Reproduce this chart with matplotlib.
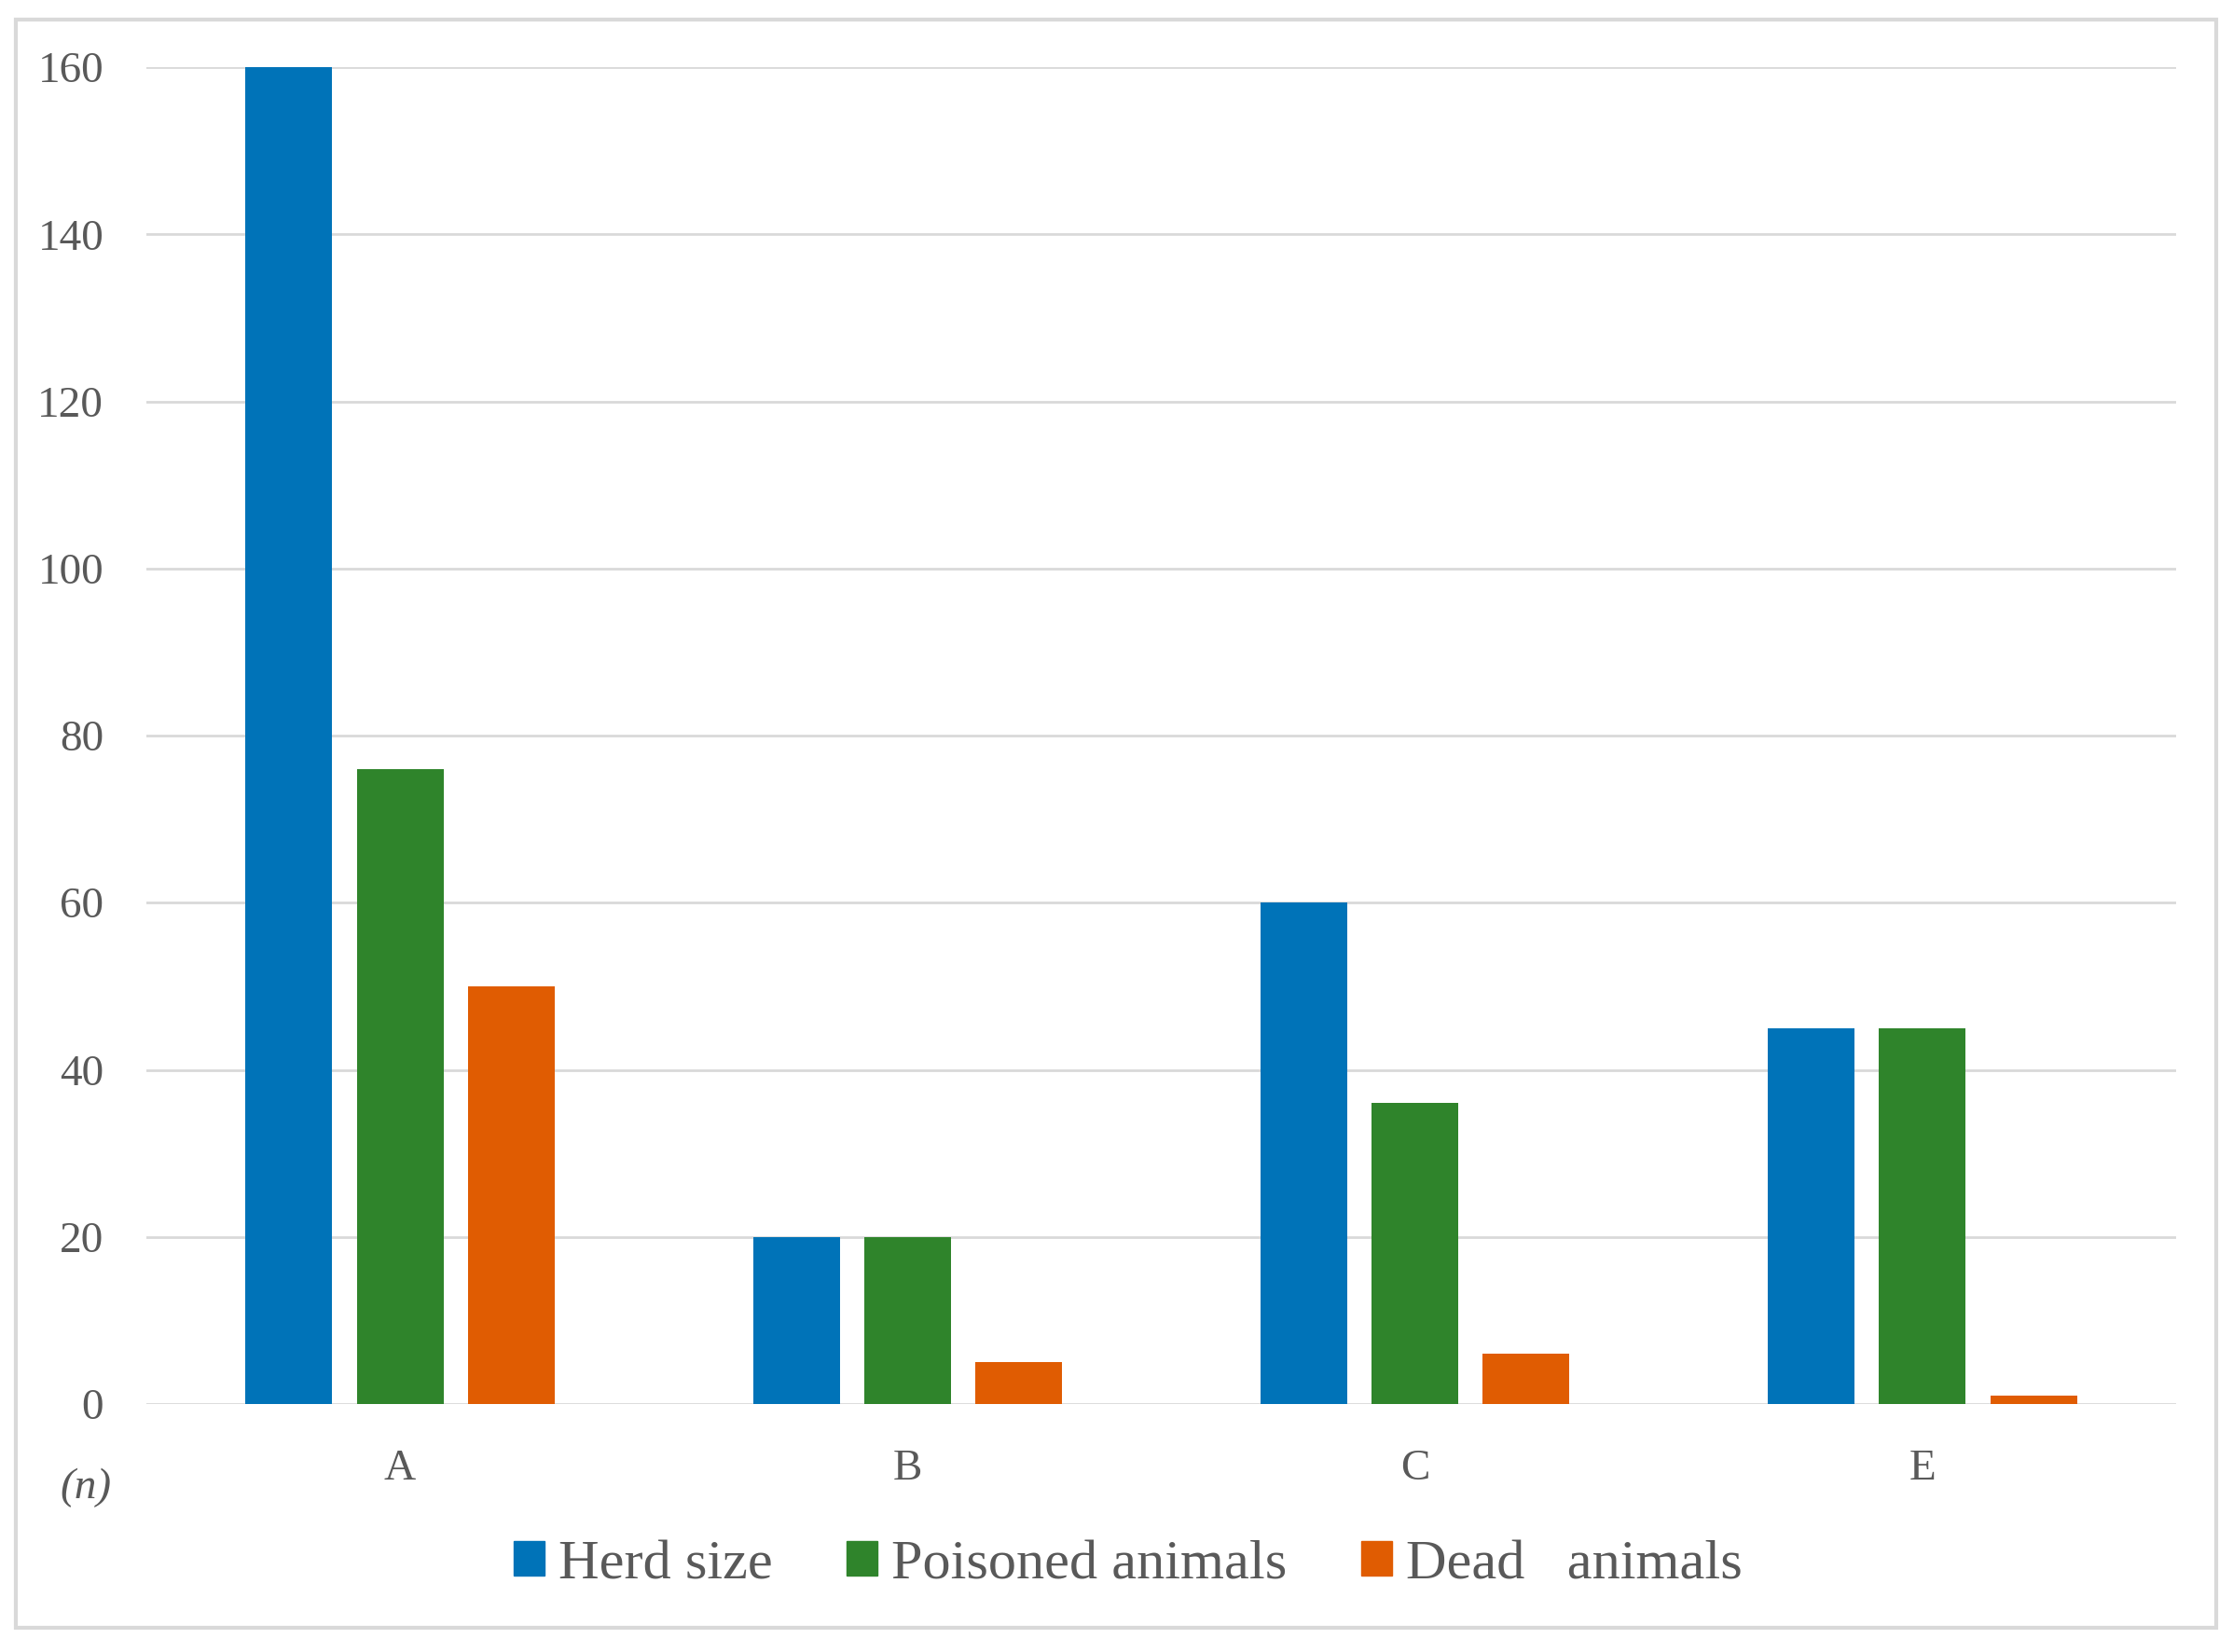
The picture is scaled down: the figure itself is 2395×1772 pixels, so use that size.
import matplotlib
matplotlib.use("Agg")
import matplotlib.pyplot as plt
import matplotlib.patches as mpatches
import numpy as np

categories = ["A", "B", "C", "E"]
herd_size = [160, 20, 60, 45]
poisoned = [76, 20, 36, 45]
dead = [50, 5, 6, 1]
series_names = ["Herd size", "Poisoned animals", "Dead   animals"]
colors = ["#0073B8", "#2F842B", "#E05C02"]
yticks = [0, 20, 40, 60, 80, 100, 120, 140, 160]

W, H = 2395, 1772
fig = plt.figure(figsize=(W / 100, H / 100), dpi=100)
txt = "#595959"
font = "Liberation Serif"

ax = fig.add_axes([157 / W, 1 - 1506 / H, (2334 - 157) / W, (1506 - 72) / H])
x = np.arange(len(categories))
bw = 0.171
step = 0.219
for i, (vals, c) in enumerate(zip([herd_size, poisoned, dead], colors)):
    ax.bar(x + (i - 1) * step, vals, width=bw, color=c, zorder=3)

ax.set_xlim(-0.5, len(categories) - 0.5)
ax.set_ylim(0, 160)
ax.set_yticks(yticks)
ax.set_yticklabels([str(v) for v in yticks], fontsize=34, color=txt, family=font)
ax.set_xticks(x)
ax.set_xticklabels(categories, fontsize=34, color=txt, family=font)
ax.tick_params(axis="both", length=0)
ax.tick_params(axis="y", pad=33)
ax.tick_params(axis="x", pad=35)
for s in ax.spines.values():
    s.set_visible(False)
ax.yaxis.grid(True, color="#D9D9D9", linewidth=2, zorder=0)
ax.set_axisbelow(True)

fig.text(92 / W, 1 - 1596 / H, "(n)", fontsize=34, color=txt, family=font,
         style="italic", ha="center", va="center")

handles = [mpatches.Patch(color=c, label=n) for c, n in zip(colors, series_names)]
leg = fig.legend(handles=handles, loc="center", bbox_to_anchor=(1210 / W, 1 - 1679 / H),
                 ncol=3, frameon=False, prop={"family": font, "size": 43.5},
                 handlelength=0.546, handleheight=0.546, handletextpad=0.25,
                 columnspacing=1.31, borderpad=0)
for t in leg.get_texts():
    t.set_color(txt)

border = mpatches.Rectangle((17 / W, 1 - 1746 / H), (2377 - 17) / W, (1746 - 21) / H,
                            transform=fig.transFigure, fill=False,
                            edgecolor="#D9D9D9", linewidth=3)
fig.patches.append(border)

fig.savefig("out.png", dpi=100, facecolor="white")
